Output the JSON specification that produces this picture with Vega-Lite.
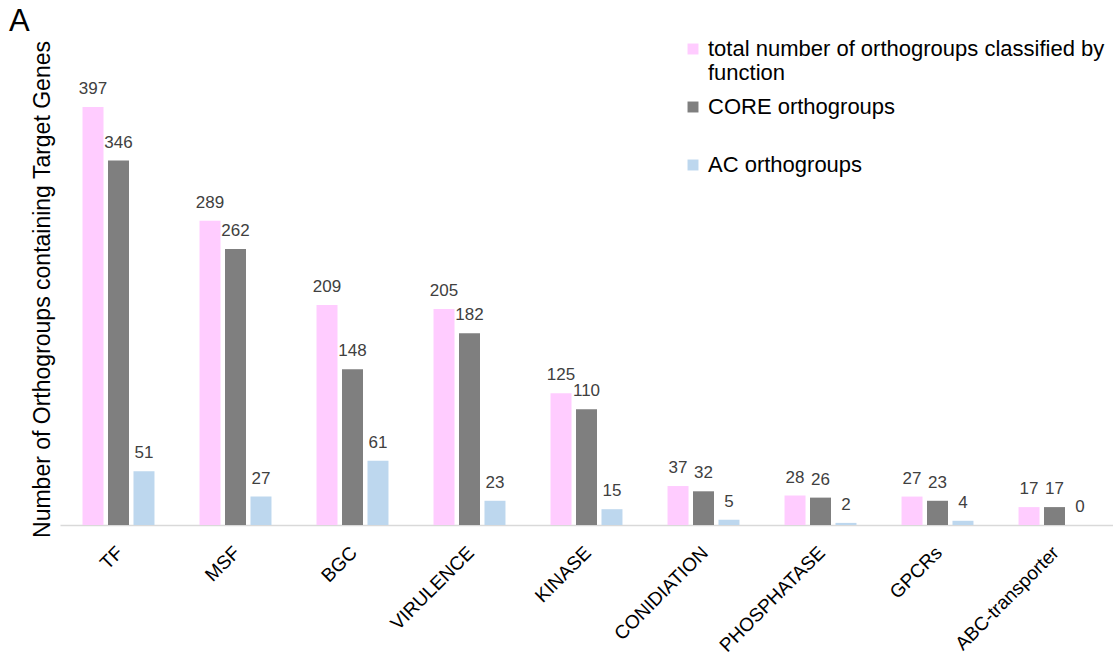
{
  "$schema": "https://vega.github.io/schema/vega-lite/v6.json",
  "autosize": {"type": "none"},
  "padding": {"left": 60, "top": 30, "right": 0, "bottom": 145},
  "width": 1053,
  "height": 495,
  "background": "white",
  "title": {"text": "A", "anchor": "start", "frame": "group", "fontSize": 31, "font": "Liberation Sans", "fontWeight": "normal", "color": "#000000", "dx": -51, "dy": 8, "offset": 0},
  "data": {"values": [
    {"category": "TF", "series": "total number of orthogroups classified by function", "order": 1, "value": 397},
    {"category": "TF", "series": "CORE orthogroups", "order": 2, "value": 346},
    {"category": "TF", "series": "AC orthogroups", "order": 3, "value": 51},
    {"category": "MSF", "series": "total number of orthogroups classified by function", "order": 1, "value": 289},
    {"category": "MSF", "series": "CORE orthogroups", "order": 2, "value": 262},
    {"category": "MSF", "series": "AC orthogroups", "order": 3, "value": 27},
    {"category": "BGC", "series": "total number of orthogroups classified by function", "order": 1, "value": 209},
    {"category": "BGC", "series": "CORE orthogroups", "order": 2, "value": 148},
    {"category": "BGC", "series": "AC orthogroups", "order": 3, "value": 61},
    {"category": "VIRULENCE", "series": "total number of orthogroups classified by function", "order": 1, "value": 205},
    {"category": "VIRULENCE", "series": "CORE orthogroups", "order": 2, "value": 182},
    {"category": "VIRULENCE", "series": "AC orthogroups", "order": 3, "value": 23},
    {"category": "KINASE", "series": "total number of orthogroups classified by function", "order": 1, "value": 125},
    {"category": "KINASE", "series": "CORE orthogroups", "order": 2, "value": 110},
    {"category": "KINASE", "series": "AC orthogroups", "order": 3, "value": 15},
    {"category": "CONIDIATION", "series": "total number of orthogroups classified by function", "order": 1, "value": 37},
    {"category": "CONIDIATION", "series": "CORE orthogroups", "order": 2, "value": 32},
    {"category": "CONIDIATION", "series": "AC orthogroups", "order": 3, "value": 5},
    {"category": "PHOSPHATASE", "series": "total number of orthogroups classified by function", "order": 1, "value": 28},
    {"category": "PHOSPHATASE", "series": "CORE orthogroups", "order": 2, "value": 26},
    {"category": "PHOSPHATASE", "series": "AC orthogroups", "order": 3, "value": 2},
    {"category": "GPCRs", "series": "total number of orthogroups classified by function", "order": 1, "value": 27},
    {"category": "GPCRs", "series": "CORE orthogroups", "order": 2, "value": 23},
    {"category": "GPCRs", "series": "AC orthogroups", "order": 3, "value": 4},
    {"category": "ABC-transporter", "series": "total number of orthogroups classified by function", "order": 1, "value": 17},
    {"category": "ABC-transporter", "series": "CORE orthogroups", "order": 2, "value": 17},
    {"category": "ABC-transporter", "series": "AC orthogroups", "order": 3, "value": 0}
  ]},
  "encoding": {
    "x": {
      "field": "category", "type": "nominal", "sort": null,
      "scale": {"paddingInner": 0.385, "paddingOuter": 0.1925},
      "axis": {"title": null, "labelAngle": -45, "labelFontSize": 19, "labelFont": "Liberation Sans", "labelColor": "#000000", "ticks": false, "domainColor": "#D9D9D9", "domainWidth": 1.5, "labelPadding": 18, "labelLimit": 300, "labelOffset": -5}
    },
    "xOffset": {"field": "order", "type": "ordinal", "scale": {"paddingInner": 0.176, "paddingOuter": 0}},
    "y": {
      "field": "value", "type": "quantitative",
      "scale": {"domain": [0, 470], "nice": false},
      "axis": {"title": "Number of Orthogroups containing Target Genes", "titleFontSize": 23, "titleFont": "Liberation Sans", "titleFontWeight": "normal", "titleColor": "#000000", "labels": false, "ticks": false, "domain": false, "grid": false, "titlePadding": 6, "titleY": 259}
    }
  },
  "layer": [
    {
      "mark": {"type": "bar"},
      "encoding": {
        "color": {
          "field": "series", "type": "nominal",
          "scale": {"domain": ["total number of orthogroups classified by function", "CORE orthogroups", "AC orthogroups"], "range": ["#FFCCFF", "#7F7F7F", "#BDD7EE"]},
          "legend": {
            "title": null, "orient": "top-right", "offset": 8,
            "symbolType": "square", "symbolSize": 120, "symbolStrokeWidth": 0,
            "labelFontSize": 22, "labelFont": "Liberation Sans", "labelColor": "#000000",
            "labelLimit": 500, "labelOffset": 4, "rowPadding": 12,
            "labelExpr": "datum.label == 'total number of orthogroups classified by function' ? ['total number of orthogroups classified by', 'function'] : datum.label == 'CORE orthogroups' ? ['CORE orthogroups', ' '] : datum.label"
          }
        }
      }
    },
    {
      "mark": {"type": "text", "baseline": "bottom", "dy": -9, "fontSize": 17, "font": "Liberation Sans", "color": "#404040"},
      "encoding": {"text": {"field": "value", "type": "quantitative"}}
    }
  ],
  "config": {"view": {"stroke": null}}
}
